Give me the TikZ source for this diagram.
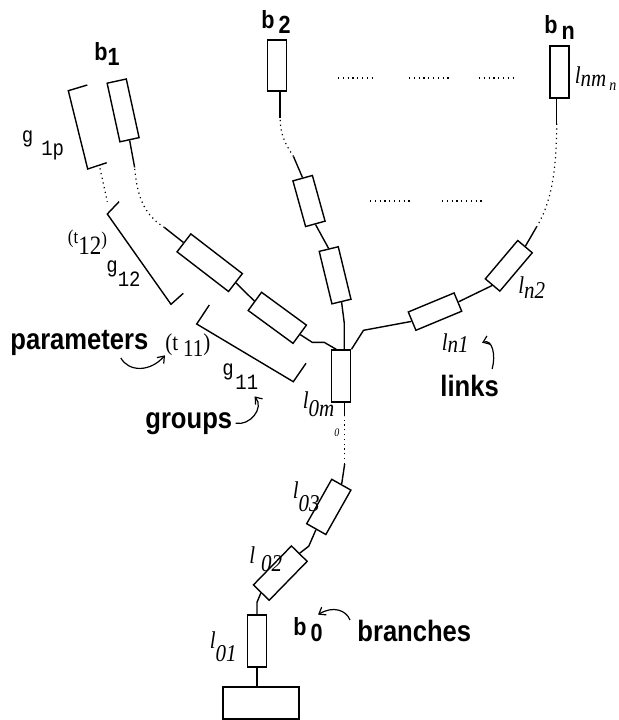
\documentclass[tikz,border=0pt]{standalone}
\usepackage{fontspec}
\setmainfont{Liberation Serif}
\setsansfont{Liberation Sans}
\setmonofont{Liberation Mono}
\usepackage{tikz}
\usetikzlibrary{arrows.meta,calc}

% the lettering of the drawing is a little taller than wide
\newcommand{\tallt}[1]{\scalebox{1}[1.15]{#1}}

\tikzset{
  link/.style={draw, inner sep=0pt, minimum height=9.5pt, line width=0.7pt},
  wire/.style={line width=0.7pt},
  gap/.style={line width=0.6pt, dash pattern=on 0.6pt off 1.8pt},
  note/.style={line width=0.6pt, -{Straight Barb[length=3pt,width=4.5pt]}},
  tag/.style={font=\sffamily\bfseries\fontsize{12.8}{14}\selectfont, inner sep=0pt, anchor=base west},
  bname/.style={font=\sffamily\bfseries\fontsize{10.8}{12}\selectfont, inner sep=0pt, anchor=base west},
  lname/.style={font=\itshape\fontsize{10.5}{12}\selectfont, inner sep=0pt, anchor=base west},
  gname/.style={font=\ttfamily\fontsize{9.5}{11}\selectfont, inner sep=0pt, anchor=base west},
  tname/.style={font=\fontsize{10.5}{12}\selectfont, inner sep=0pt, anchor=base west},
}

\begin{document}
\begin{tikzpicture}[x=0.5pt, y=-0.5pt]
  \useasboundingbox (0,0) rectangle (619,720);

  % base and branch b0
  \node[link, minimum width=38pt, minimum height=16pt] (base) at (261,703) {};
  \node[link, minimum width=26pt, rotate=90] (l01) at (257,641) {};
  \node[link, minimum width=27.2pt, minimum height=11pt, rotate=45.7] (l02) at (280.3,573.1) {};
  \node[link, minimum width=25.5pt, minimum height=11pt, rotate=60.6] (l03) at (328.8,506.9) {};
  \node[link, minimum width=26pt, rotate=90] (l0m) at (341.3,376) {};

  % branch b1
  \node[link, minimum width=27.8pt, minimum height=11.3pt, rotate=143.8] (l11) at (277.3,317.8) {};
  \node[link, minimum width=32.5pt, minimum height=11.3pt, rotate=142.4] (l12) at (209.7,262.7) {};
  \node[link, minimum width=30pt, minimum height=9.8pt, rotate=102.3] (l1p) at (123.1,110.4) {};

  % branch b2
  \node[link, minimum width=27pt, minimum height=9.8pt, rotate=103.6] (l21) at (335.1,275.3) {};
  \node[link, minimum width=23.7pt, minimum height=10.1pt, rotate=105.5] (l22) at (309,201) {};
  \node[link, minimum width=25.5pt, rotate=90] (l2m) at (277.2,65.3) {};

  % branch bn
  \node[link, minimum width=24.8pt, minimum height=9.9pt, rotate=22.6] (ln1) at (435,311.6) {};
  \node[link, minimum width=25.1pt, minimum height=9.5pt, rotate=49.8] (ln2) at (508.8,265.8) {};
  \node[link, minimum width=26pt, rotate=90] (lnm) at (559.7,71.8) {};

  % joints of b0
  \draw[wire] (l01.west) -- (l01.west |- base.north);
  \draw[wire] (l01.east) -- ++(0,-12) -- (l02.west);
  \draw[wire] (l02.east) -- ++(9,-7) -- (l03.west);
  \draw[wire] (l03.east) -- ++(3,-20) coordinate (d1);
  \draw[gap] (d1) -- ++(0,-48) coordinate (d2);
  \draw[wire] (d2) -- (d2 |- l0m.west);

  % fork at the top of l0m
  \draw[wire] ($(l0m.north east)!0.5!(l0m.east)$) -- ++(-12,-7) -- ++(-12,0) -- (l11.west);
  \draw[wire] ([xshift=1.5pt]l0m.east) -- ++(0,-26) -- (l21.west);
  \draw[wire] (l0m.south east) -- ++(12,-19) -- (ln1.west);

  % joints of b1
  \draw[wire] (l11.east) -- (l12.west);
  \draw[wire] (l12.east) -- ++(-19,-15) coordinate (d3);
  \draw[wire] (l1p.west) -- ++(5,27) coordinate (d4);
  \draw[gap] (d3) .. controls (143,214) and (137,195) .. (d4);

  % joints of b2
  \draw[wire] (l21.east) -- (l22.west);
  \draw[wire] (l22.east) -- ++(-9,-21) coordinate (d5);
  \draw[wire] ([xshift=1.5pt]l2m.west) -- ++(0,26) coordinate (d6);
  \draw[gap] (d5) .. controls (286,145) and (280,135) .. (d6);

  % joints of bn
  \draw[wire] (ln1.east) -- (ln2.west);
  \draw[wire] (ln2.east) -- ++(11,-19) coordinate (d7);
  \draw[wire] ([xshift=-1.5pt]lnm.west) -- ++(0,25) coordinate (d8);
  \draw[gap] (d7) .. controls (550,205) and (556.7,175) .. (d8);

  % more branches
  \draw[gap] (338,78) -- (376,78);
  \draw[gap] (409,78) -- (452,78);
  \draw[gap] (479,78) -- (517,78);
  \draw[gap] (370,201) -- (413,201);
  \draw[gap] (442,201) -- (483,201);

  % groups
  \draw[wire] (87.3,85) -- (68.3,90.7) -- (87.7,169) -- (106.7,162.7);
  \draw[gap] (100,168.3) -- (107.3,201.7);
  \draw[wire] (119,201.7) -- (107.3,214) -- (171,304.3) -- (183.3,293.3);
  \draw[wire] (209.3,305) -- (196.7,324) -- (293.3,381.7) -- (306,363.3);

  % names
  \node[bname] (b1) at (94,60) {\tallt{b\raisebox{-2.2pt}{1}}};
  \node[bname] (b2) at (261,28) {\tallt{b\hspace{2pt}\raisebox{-2.2pt}{2}}};
  \node[bname] (bn) at (544,33) {\tallt{b\hspace{2pt}\raisebox{-3pt}{n}}};
  \node[bname] (b0) at (293,635) {\tallt{b\hspace{2pt}\raisebox{-2.9pt}{0}}};

  \node[lname] (ln2lab) at (518,293.3) {\tallt{l\raisebox{-2.2pt}{n2}}};
  \node[lname] (ln1lab) at (441.5,350) {\tallt{l\raisebox{-0.9pt}{n1}}};
  \node[lname] (lnmlab) at (574.5,83) {\tallt{l\raisebox{-1.6pt}{nm\hspace{1.5pt}\raisebox{-1.6pt}{\fontsize{7}{8}\selectfont n}}}};
  \node[lname] (l0mlab) at (302.5,408) {\tallt{l\raisebox{-3.7pt}{0m\raisebox{-8.7pt}{\fontsize{5}{6}\selectfont 0}}}};
  \node[lname] (l03lab) at (292.5,498) {\tallt{l\raisebox{-5.9pt}{03}}};
  \node[lname] (l02lab) at (249,563.3) {\tallt{l\hspace{3pt}\raisebox{-3.7pt}{02}}};
  \node[lname] (l01lab) at (209.5,648.3) {\tallt{l\raisebox{-5.8pt}{01}}};

  \node[gname] (g1p) at (21.5,142) {\tallt{g\hspace{4pt}\raisebox{-5.7pt}{1p}}};
  \node[gname] (g12) at (106,272.5) {\tallt{g\raisebox{-6.3pt}{12}}};
  \node[gname] (g11) at (222,375) {\tallt{g\hspace{0.8pt}\raisebox{-6.5pt}{11}}};

  \node[tname] (t11) at (165,350) {\tallt{(t\hspace{2.5pt}\raisebox{-3pt}{11})}};
  \node[tname] (t12) at (67.5,243) {\tallt{{\fontsize{8.5}{10}\selectfont(t}\raisebox{-4.8pt}{\fontsize{11.5}{13}\selectfont 12}\raisebox{-0.9pt}{\fontsize{8.5}{10}\selectfont)}}};

  % what is what
  \node[tag] (param) at (10,349.5) {\tallt{parameters}};
  \node[tag] (groups) at (145,428) {\tallt{groups}};
  \node[tag] (links) at (440,396.7) {\tallt{links}};
  \node[tag] (branches) at (357,641.7) {\tallt{branches}};

  \draw[note] ([xshift=-14pt,yshift=-1pt]param.south east) .. controls +(8,14) and +(-15,17) .. ([yshift=1pt]t11.south west);
  \draw[note] ([xshift=1.5pt]groups.east) .. controls +(14,3) and +(10,12) .. ([xshift=-2pt,yshift=-3pt]g11.south east);
  \draw[note] ([xshift=-3.5pt,yshift=3pt]links.north east) .. controls +(4,-14) and +(10,-4) .. ([xshift=6.5pt]ln1lab.east);
  \draw[note] ([xshift=-3.5pt]branches.north west) .. controls +(-4,-10) and +(15,-9) .. ([xshift=-2.5pt,yshift=1pt]b0.north east);
\end{tikzpicture}
\end{document}
